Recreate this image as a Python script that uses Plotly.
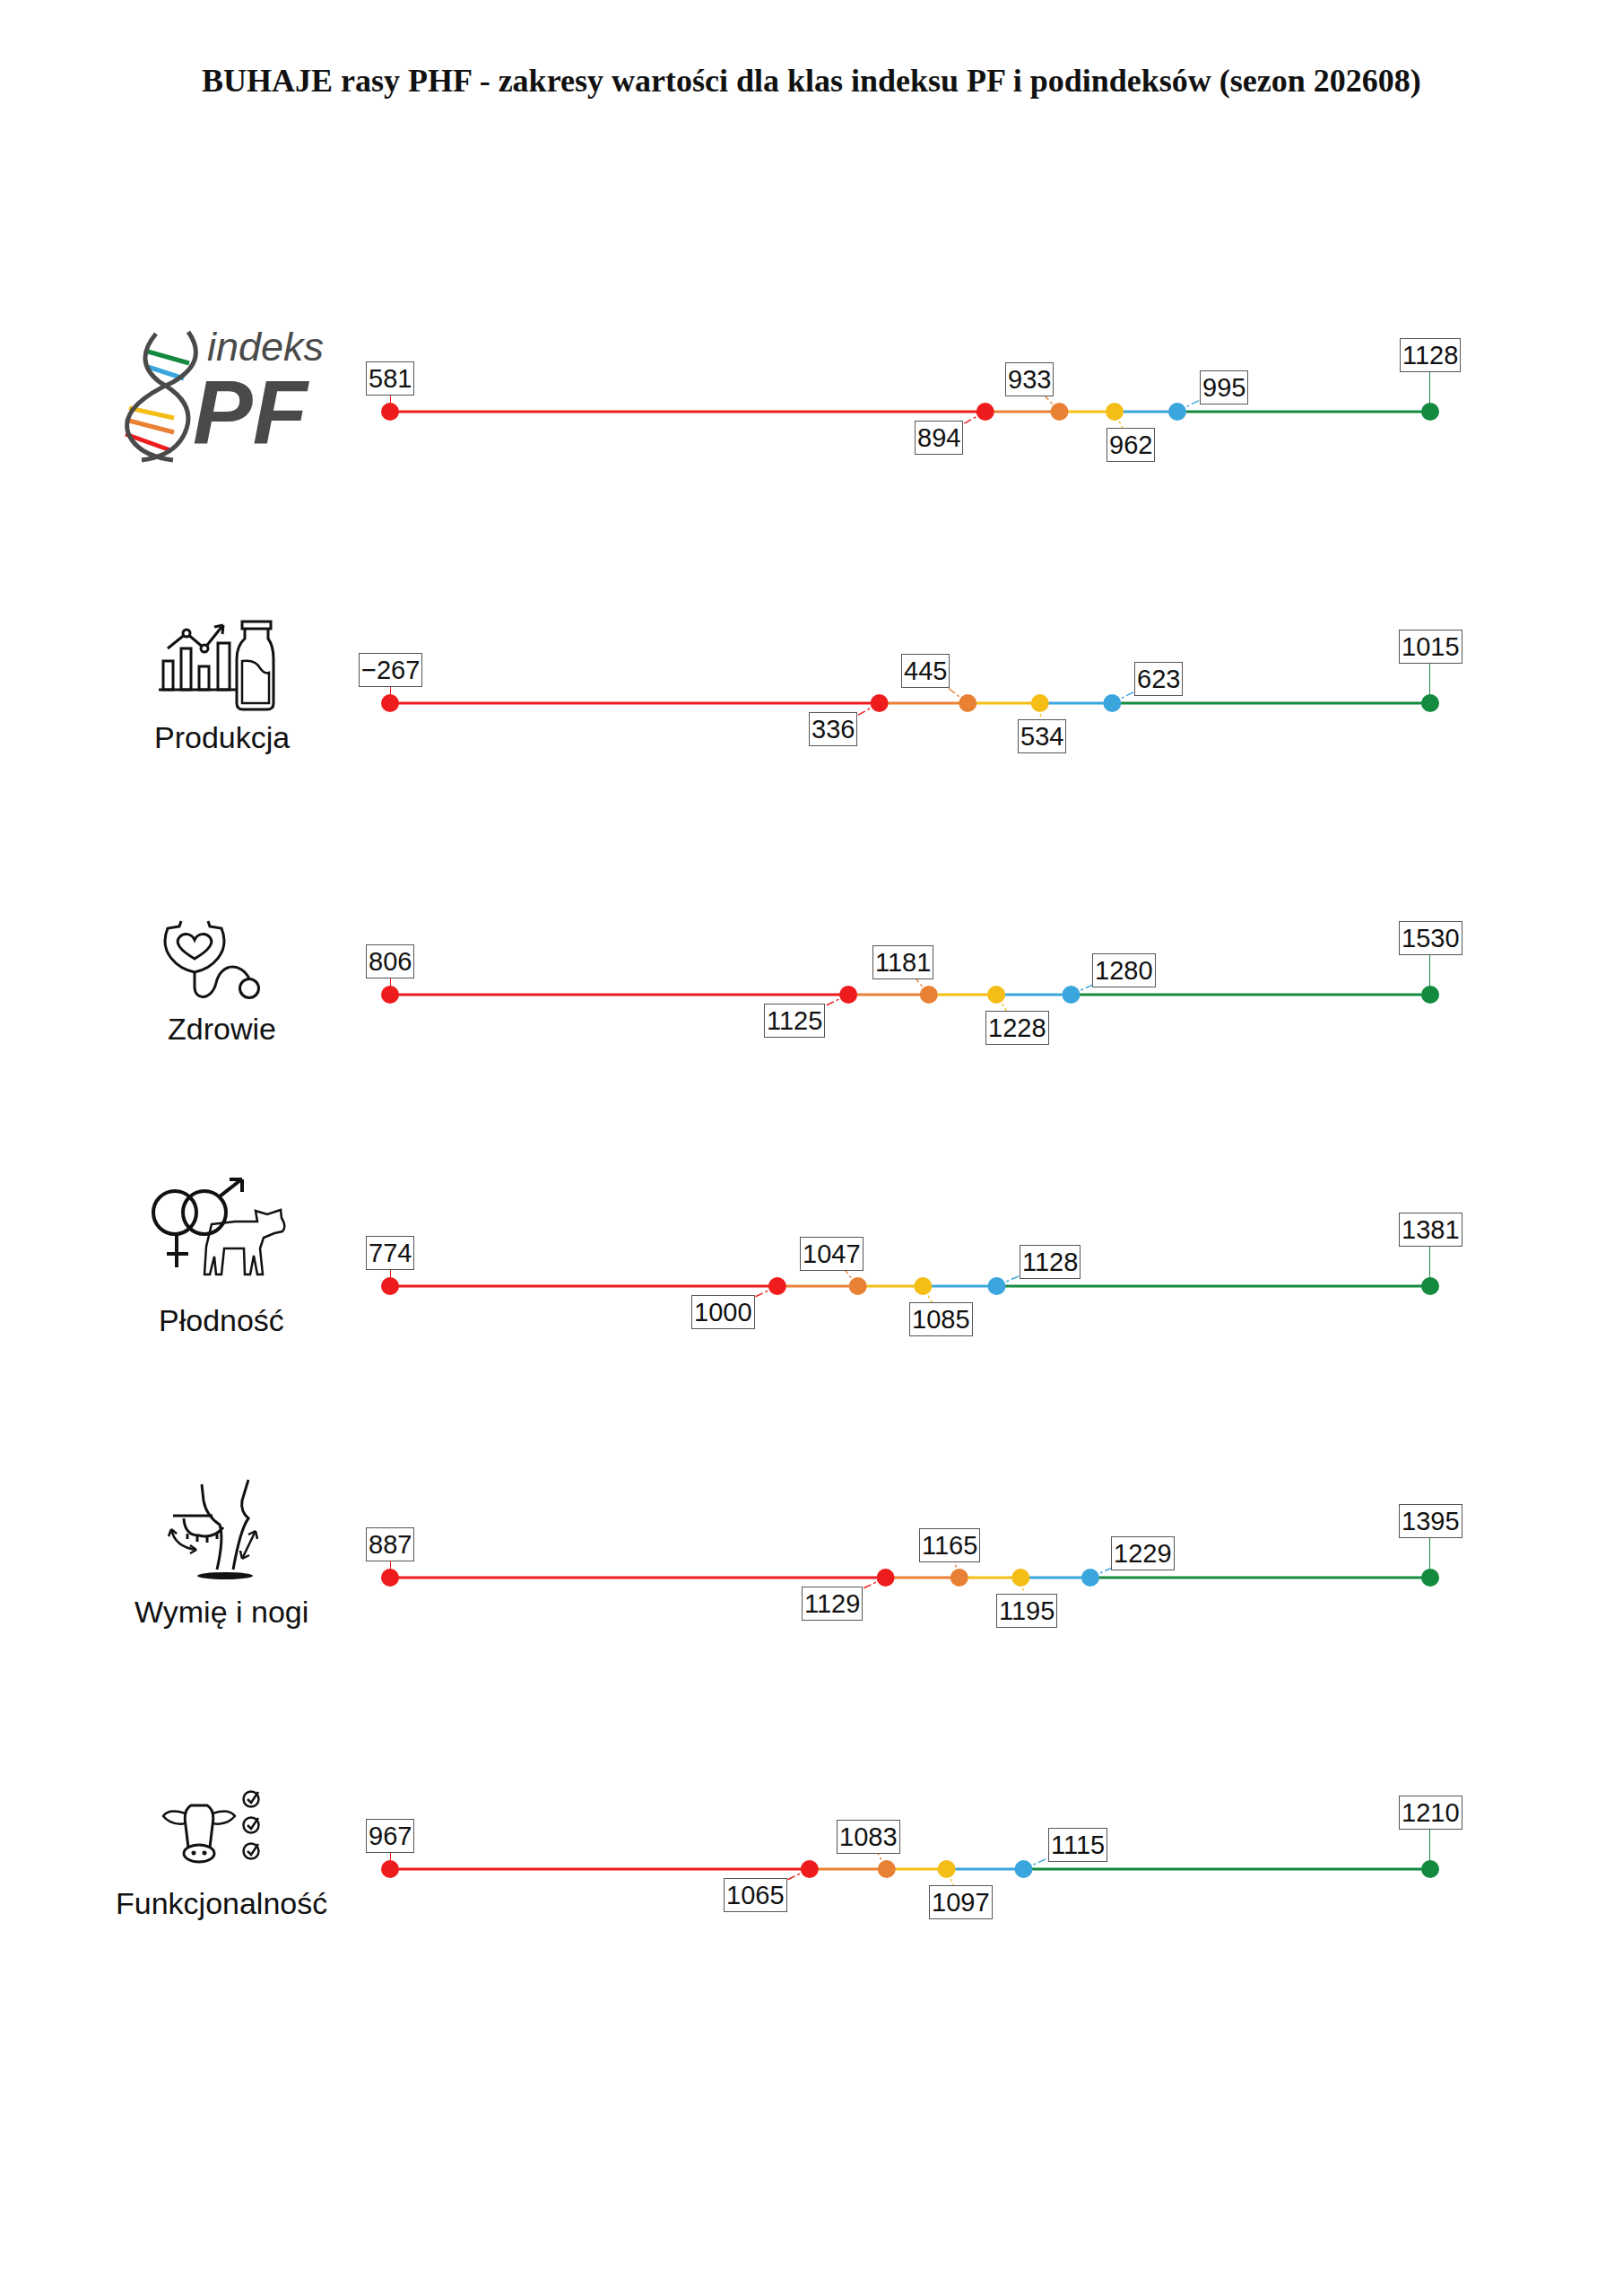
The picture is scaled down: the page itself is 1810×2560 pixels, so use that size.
import plotly.graph_objects as go

# ---------------- data ----------------
categories = ["indeks PF", "Produkcja", "Zdrowie", "Płodność", "Wymię i nogi", "Funkcjonalność"]
min_vals = [581, -267, 806, 774, 887, 967]
class1_upper = [894, 336, 1125, 1000, 1129, 1065]
class2_upper = [933, 445, 1181, 1047, 1165, 1083]
class3_upper = [962, 534, 1228, 1085, 1195, 1097]
class4_upper = [995, 623, 1280, 1128, 1229, 1115]
max_vals = [1128, 1015, 1530, 1381, 1395, 1210]
title_text = "BUHAJE rasy PHF - zakresy wartości dla klas indeksu PF i podindeksów (sezon 202608)"

# ---------------- style ----------------
W, H = 1810, 2560
OFF = 8                               # page margin of the browser
X_LEFT, X_RIGHT = 435, 1595           # pixel positions of min / max dots (page)
ROW_TOP, ROW_STEP = 459, 325          # pixel y of first row, spacing (page)
COLORS = ["#EE1C1C", "#E98134", "#F5BE16", "#3AA6DD", "#138A3E"]
FONT = "Liberation Sans, Arial, sans-serif"
ICON = "#111111"
C1_DX = [-52, -52, -60, -60, -60, -60]
C2_DX = [-33, -47, -29, -29, -11, -20]
C3_DX = [18, 2, 23, 20, 7, 16]
C4_DX = [52, 52, 59, 59, 59, 60]


def fmt(v):
    return ("\u2212" + str(abs(v))) if v < 0 else str(v)


def px(x):
    return (x - OFF) / W


def py(y):
    return 1 - (y - OFF) / H


fig = go.Figure()
annotations = []
shapes = []
layout_axes = {}
band = 0.03

for i, cat in enumerate(categories):
    k = "" if i == 0 else str(i + 1)
    xa, ya = "x" + k, "y" + k
    row_y = ROW_TOP + ROW_STEP * i
    yc = py(row_y)
    vals = [min_vals[i], class1_upper[i], class2_upper[i], class3_upper[i], class4_upper[i], max_vals[i]]

    layout_axes["xaxis" + k] = dict(domain=[px(X_LEFT), px(X_RIGHT)], range=[min_vals[i], max_vals[i]],
                                    visible=False, anchor=ya, fixedrange=True)
    layout_axes["yaxis" + k] = dict(domain=[yc - band, yc + band], range=[-1, 1],
                                    visible=False, anchor=xa, fixedrange=True)

    for s in range(5):
        fig.add_trace(go.Scatter(x=[vals[s], vals[s + 1]], y=[0, 0], mode="lines",
                                 line=dict(color=COLORS[s], width=3), xaxis=xa, yaxis=ya,
                                 hoverinfo="skip", showlegend=False, cliponaxis=False))
    dot_colors = [COLORS[0], COLORS[0], COLORS[1], COLORS[2], COLORS[3], COLORS[4]]
    fig.add_trace(go.Scatter(x=vals, y=[0] * 6, mode="markers",
                             marker=dict(color=dot_colors, size=20, line=dict(width=0)),
                             xaxis=xa, yaxis=ya, showlegend=False, cliponaxis=False,
                             hovertemplate="%{x}<extra></extra>"))

    offsets = [(0, -37), (C1_DX[i], 29), (C2_DX[i], -36), (C3_DX[i], 37), (C4_DX[i], -27), (0, -63)]
    dashes = ["solid", "dashdot", "dashdot", "dashdot", "dashdot", "solid"]
    widths = [2.0, 1.4, 1.4, 1.4, 1.4, 2.0]
    for j, v in enumerate(vals):
        dx, dy = offsets[j]
        shapes.append(dict(type="line", xref=xa, yref=ya, xsizemode="pixel", ysizemode="pixel",
                           xanchor=v, yanchor=0, x0=0, y0=0, x1=dx, y1=-dy,
                           line=dict(color=dot_colors[j], width=widths[j], dash=dashes[j]),
                           layer="below"))
        annotations.append(dict(
            x=v, y=0, xref=xa, yref=ya, text=fmt(v), showarrow=False,
            xshift=dx, yshift=-dy, xanchor="center", yanchor="middle",
            font=dict(family=FONT, size=29, color="#111111"),
            bgcolor="white", bordercolor="#555555", borderwidth=1, borderpad=2,
        ))

    if i > 0:
        annotations.append(dict(x=px(247), y=py(row_y + 38), xref="paper", yref="paper",
                                text=cat, showarrow=False,
                                font=dict(family=FONT, size=34, color="#111111"),
                                xanchor="center", yanchor="middle"))


# ---------------- icon helpers (page pixel coords) ----------------
def path(cmds, close=False):
    s = ""
    for c, pts in cmds:
        s += " " + c + " " + " ".join(f"{px(x):.5f} {py(y):.5f}" for x, y in pts)
    return s.strip() + (" Z" if close else "")


def add_path(cmds, close=False, color=ICON, width=3, fill=None):
    d = dict(type="path", xref="paper", yref="paper", path=path(cmds, close),
             line=dict(color=color, width=width))
    if fill:
        d["fillcolor"] = fill
    shapes.append(d)


def add_line(x0, y0, x1, y1, color=ICON, width=3):
    shapes.append(dict(type="line", xref="paper", yref="paper", x0=px(x0), y0=py(y0), x1=px(x1), y1=py(y1),
                       line=dict(color=color, width=width)))


def add_circle(cx, cy, r, color=ICON, width=3, fill=None):
    d = dict(type="circle", xref="paper", yref="paper", x0=px(cx - r), x1=px(cx + r),
             y0=py(cy + r), y1=py(cy - r), line=dict(color=color, width=width))
    if fill:
        d["fillcolor"] = fill
    shapes.append(d)


def add_rect(x0, y0, x1, y1, color=ICON, width=3):
    shapes.append(dict(type="rect", xref="paper", yref="paper", x0=px(x0), x1=px(x1),
                       y0=py(y1), y1=py(y0), line=dict(color=color, width=width)))


# ---- indeks PF logo ----
annotations.append(dict(x=px(296), y=py(386), xref="paper", yref="paper",
                        text="<i>indeks</i>", showarrow=False, height=44,
                        font=dict(family=FONT, size=45, color="#4A4A4A"),
                        xanchor="center", yanchor="middle", valign="middle"))
annotations.append(dict(x=px(280), y=py(459), xref="paper", yref="paper",
                        text="<b><i>PF</i></b>", showarrow=False, height=90,
                        font=dict(family=FONT, size=100, color="#4A4A4A"),
                        xanchor="center", yanchor="middle", valign="middle"))
for col, x0, y0, x1, y1 in [("#138A3E", 165, 392, 211, 405), ("#3AA6DD", 165, 409, 205, 422),
                            ("#F5BE16", 144, 455, 194, 466), ("#E98134", 140, 468, 194, 482),
                            ("#EE1C1C", 140, 484, 190, 502)]:
    add_line(x0, y0, x1, y1, color=col, width=5)
add_path([("M", [(174, 372)]), ("Q", [(148, 403), (178, 426)]), ("Q", [(218, 448), (208, 478)]),
          ("Q", [(198, 508), (158, 513)])], color="#4A4A4A", width=5)
add_path([("M", [(210, 370)]), ("Q", [(233, 403), (193, 426)]), ("Q", [(133, 453), (143, 483)]),
          ("Q", [(153, 508), (193, 513)])], color="#4A4A4A", width=5)

# ---- Produkcja icon ----
add_line(177, 769, 263, 769)
for x0, y0, x1 in [(182, 737, 193), (202, 723, 213), (222, 743, 233), (243, 717, 256)]:
    add_rect(x0, y0, x1, 769)
add_path([("M", [(187, 723)]), ("L", [(208, 706)]), ("L", [(228, 723)]), ("L", [(248, 698)])])
add_line(239, 699, 249, 697)
add_line(249, 697, 248, 707)
add_circle(208, 706, 4, fill="white")
add_circle(228, 723, 4, fill="white")
add_rect(270, 693, 302, 701)
add_path([("M", [(273, 701)]), ("L", [(273, 712)]), ("Q", [(264, 720), (264, 735)]), ("L", [(264, 784)]),
          ("Q", [(264, 791), (271, 791)]), ("L", [(298, 791)]), ("Q", [(305, 791), (305, 784)]),
          ("L", [(305, 735)]), ("Q", [(305, 720), (299, 712)]), ("L", [(299, 701)])])
add_path([("M", [(270, 737)]), ("Q", [(285, 735), (290, 745)]), ("Q", [(295, 752), (300, 750)]),
          ("L", [(300, 784)]), ("L", [(270, 784)])], close=True, width=2.5)

# ---- Zdrowie icon ----
add_path([("M", [(202, 1027)]), ("L", [(200, 1033)]), ("L", [(187, 1035)]),
          ("C", [(176, 1062), (198, 1080), (217, 1084)]),
          ("C", [(236, 1080), (258, 1062), (247, 1035)]), ("L", [(234, 1033)]), ("L", [(232, 1027)])])
add_path([("M", [(217, 1084)]), ("L", [(217, 1100)]), ("C", [(217, 1116), (236, 1116), (241, 1096)]),
          ("C", [(246, 1074), (268, 1072), (278, 1091)])])
add_circle(278, 1102, 10.5)
add_path([("M", [(217, 1069)]), ("C", [(200, 1059), (195, 1051), (200, 1045)]),
          ("C", [(205, 1039), (214, 1041), (217, 1048)]), ("C", [(220, 1041), (229, 1039), (234, 1045)]),
          ("C", [(239, 1051), (234, 1059), (217, 1069)])], close=True)

# ---- Płodność icon ----
add_circle(195, 1352, 24, width=4)
add_line(197, 1377, 197, 1413, width=4)
add_line(186, 1398, 210, 1398, width=4)
add_circle(228, 1352, 24, width=4)
add_line(245, 1334, 268, 1316, width=4)
add_line(256, 1315, 270, 1315, width=4)
add_line(270, 1315, 270, 1329, width=4)
add_path([("M", [(236, 1365)]), ("L", [(262, 1362)]), ("L", [(287, 1362)]), ("L", [(285, 1350)]),
          ("L", [(298, 1354)]), ("L", [(313, 1349)]), ("L", [(314, 1358)]), ("Q", [(320, 1368), (315, 1373)]),
          ("L", [(306, 1375)]), ("L", [(294, 1380)]), ("L", [(290, 1392)]), ("L", [(293, 1421)]),
          ("L", [(287, 1421)]), ("L", [(283, 1400)]), ("L", [(279, 1421)]), ("L", [(273, 1421)]),
          ("L", [(272, 1392)]), ("L", [(250, 1392)]), ("L", [(247, 1421)]), ("L", [(241, 1421)]),
          ("L", [(239, 1401)]), ("L", [(234, 1421)]), ("L", [(228, 1421)]), ("L", [(230, 1390)])],
         close=True, width=2.5)

# ---- Wymię i nogi icon ----
add_line(193, 1690, 237, 1690)
add_path([("M", [(225, 1655)]), ("L", [(227, 1673)]), ("Q", [(230, 1690), (245, 1700)]),
          ("Q", [(250, 1715), (242, 1750)])])
add_path([("M", [(277, 1650)]), ("L", [(270, 1673)]), ("Q", [(268, 1685), (277, 1693)]),
          ("Q", [(268, 1705), (260, 1750)])])
add_path([("M", [(205, 1693)]), ("Q", [(206, 1712), (222, 1712)]), ("Q", [(238, 1716), (249, 1703)])])
for tx, ty in [(209, 1710), (220, 1713), (231, 1714), (242, 1710)]:
    add_line(tx, ty, tx, ty + 6, width=3)
add_path([("M", [(191, 1705)]), ("Q", [(195, 1725), (219, 1728)])], width=2.5)
add_line(191, 1705, 188, 1713, width=2.5)
add_line(191, 1705, 197, 1710, width=2.5)
add_line(219, 1728, 212, 1723, width=2.5)
add_line(219, 1728, 212, 1732, width=2.5)
add_line(285, 1707, 270, 1738, width=2.5)
add_line(285, 1707, 277, 1711, width=2.5)
add_line(285, 1707, 287, 1716, width=2.5)
add_line(270, 1738, 268, 1729, width=2.5)
add_line(270, 1738, 278, 1734, width=2.5)
shapes.append(dict(type="circle", xref="paper", yref="paper", x0=px(220), x1=px(282),
                   y0=py(1761), y1=py(1753), line=dict(width=0), fillcolor=ICON))

# ---- Funkcjonalność icon ----
add_path([("M", [(207, 2035)]), ("Q", [(204, 2018), (213, 2013)]), ("L", [(231, 2013)]),
          ("Q", [(240, 2018), (237, 2035)]), ("L", [(234, 2060)])])
add_path([("M", [(207, 2035)]), ("L", [(210, 2060)])])
add_path([("M", [(207, 2022)]), ("Q", [(188, 2016), (182, 2025)]), ("Q", [(192, 2036), (207, 2033)])], width=2.5)
add_path([("M", [(237, 2022)]), ("Q", [(256, 2016), (262, 2025)]), ("Q", [(252, 2036), (237, 2033)])], width=2.5)
shapes.append(dict(type="circle", xref="paper", yref="paper", x0=px(205), x1=px(239),
                   y0=py(2076), y1=py(2057), line=dict(color=ICON, width=3)))
add_circle(216, 2066, 1.5, width=2, fill=ICON)
add_circle(228, 2066, 1.5, width=2, fill=ICON)
for cy in [2006, 2035, 2064]:
    add_circle(280, cy, 8.5, width=2.5)
    add_path([("M", [(276, cy)]), ("L", [(280, cy + 4)]), ("L", [(288, cy - 8)])], width=2.5)

annotations.append(dict(x=px(905), y=py(90), xref="paper", yref="paper",
                        text="<b>" + title_text + "</b>", showarrow=False,
                        font=dict(family="Liberation Serif, serif", size=36, color="#111111"),
                        xanchor="center", yanchor="middle"))

fig.update_layout(width=W, height=H, margin=dict(l=0, r=0, t=0, b=0),
                  paper_bgcolor="white", plot_bgcolor="white",
                  annotations=annotations, shapes=shapes, showlegend=False, **layout_axes)

fig.write_html("out.html")
